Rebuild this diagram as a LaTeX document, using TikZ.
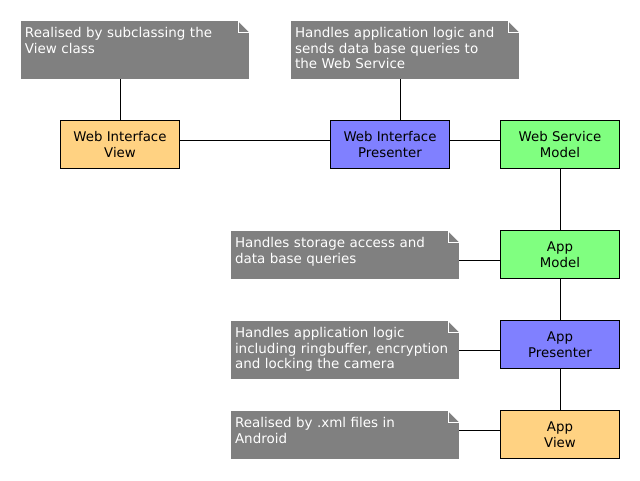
\documentclass[tikz,border=0pt]{standalone}
\usepackage{fontspec}
\setmainfont{DejaVu Sans}
\definecolor{notegray}{RGB}{128,128,128}
\definecolor{vieworange}{RGB}{255,210,130}
\definecolor{presblue}{RGB}{128,128,255}
\definecolor{modelgreen}{RGB}{128,255,128}
\tikzset{
	comp/.style={draw=black, line width=0.9pt, minimum width=88.9pt, minimum height=36pt, inner sep=0pt, align=center, font=\fontsize{10pt}{12pt}\selectfont},
	note/.style={fill=notegray, minimum width=171pt, inner sep=0pt, path picture={
		\fill[white] ([xshift=-8.25pt]path picture bounding box.north east) -- (path picture bounding box.north east) -- ([yshift=-8.25pt]path picture bounding box.north east) -- cycle;
		\draw[white, line width=0.75pt] ([xshift=-8.25pt]path picture bounding box.north east) -- ([xshift=-8.25pt,yshift=-8.25pt]path picture bounding box.north east) -- ([yshift=-8.25pt]path picture bounding box.north east);}},
	notetext/.style={anchor=north west, inner sep=0pt, text=white, text width=165pt, align=left, font=\fontsize{10.1pt}{11.6pt}\selectfont},
	link/.style={draw=black, line width=0.75pt}
}
\begin{document}
\begin{tikzpicture}[x=0.75pt,y=0.75pt,yscale=-1,xscale=1]
	\useasboundingbox (0,0) rectangle (640,480);
	% notes
	\node[note, minimum height=43.5pt] (nwiv) at (135,50) {};
	\node[note, minimum height=43.5pt] (nwip) at (405,50) {};
	\node[note, minimum height=36pt] (nam) at (345,255) {};
	\node[note, minimum height=43.5pt] (nap) at (345,350) {};
	\node[note, minimum height=36pt] (nav) at (345,435) {};
	\node[notetext] (tnwiv) at ([xshift=3pt,yshift=4.6pt]nwiv.north west) {\strut Realised by subclassing the\\View class};
	\node[notetext] (tnwip) at ([xshift=3pt,yshift=4.6pt]nwip.north west) {\strut Handles application logic and\\sends data base queries to\\the Web Service};
	\node[notetext] (tnam) at ([xshift=3pt,yshift=4.6pt]nam.north west) {\strut Handles storage access and\\data base queries};
	\node[notetext] (tnap) at ([xshift=3pt,yshift=4.6pt]nap.north west) {\strut Handles application logic\\including ringbuffer, encryption\\and locking the camera};
	\node[notetext] (tnav) at ([xshift=3pt,yshift=4.6pt]nav.north west) {\strut Realised by .xml files in\\Android};
	% components
	\node[comp, fill=vieworange] (wiv) at (120,144.8) {Web Interface\\View};
	\node[comp, fill=presblue] (wip) at (390,144.8) {Web Interface\\Presenter};
	\node[comp, fill=modelgreen] (wsm) at (560,144.8) {Web Service\\Model};
	\node[comp, fill=modelgreen] (am) at (560,254.8) {App\\Model};
	\node[comp, fill=presblue] (ap) at (560,344.8) {App\\Presenter};
	\node[comp, fill=vieworange] (av) at (560,434.8) {App\\View};
	% links
	\draw[link] (nwiv.south -| wiv.north) -- (wiv.north);
	\draw[link] ([xshift=7.5pt]wip.north) -- ([xshift=7.5pt]wip.north |- nwip.south);
	\draw[link] ([yshift=-3.6pt]wiv.east) -- ([yshift=-3.6pt]wip.west);
	\draw[link] ([yshift=-3.6pt]wip.east) -- ([yshift=-3.6pt]wsm.west);
	\draw[link] (wsm.south) -- (am.north);
	\draw[link] (am.south) -- (ap.north);
	\draw[link] (ap.south) -- (av.north);
	\draw[link] ([yshift=3.75pt]nam.east) -- ([yshift=3.75pt]nam.east -| am.west);
	\draw[link] (nap.east) -- (nap.east -| ap.west);
	\draw[link] ([yshift=-3.75pt]nav.east) -- ([yshift=-3.75pt]nav.east -| av.west);
\end{tikzpicture}
\end{document}
